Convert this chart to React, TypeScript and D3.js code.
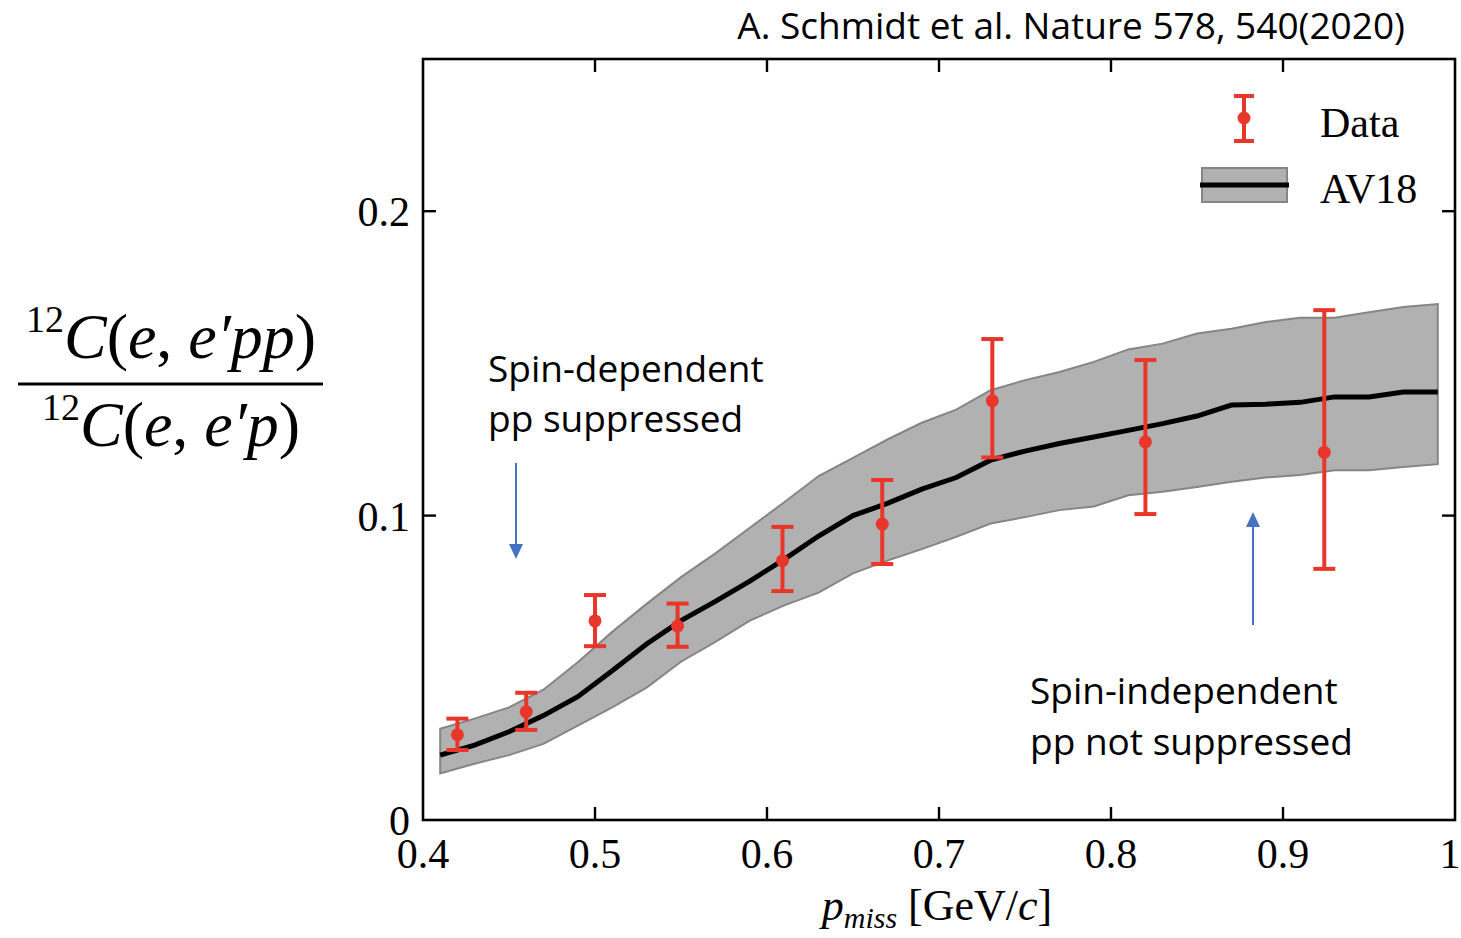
import React from "react";
import * as d3 from "d3";

const dataX = [0.42, 0.46, 0.5, 0.548, 0.609, 0.667, 0.731, 0.82, 0.924];
const dataY = [0.028, 0.0356, 0.0654, 0.0637, 0.0852, 0.0972, 0.1377, 0.1242, 0.1208];
const dataLo = [0.023, 0.0296, 0.0571, 0.0569, 0.0752, 0.0841, 0.1191, 0.1005, 0.0825];
const dataHi = [0.0333, 0.0418, 0.0739, 0.0711, 0.0963, 0.1117, 0.158, 0.1511, 0.1675];

const av18X = [0.41, 0.43, 0.45, 0.47, 0.49, 0.51, 0.53, 0.55, 0.57, 0.59, 0.61, 0.63, 0.65, 0.67, 0.69, 0.71, 0.73, 0.75, 0.77, 0.79, 0.81, 0.83, 0.85, 0.87, 0.89, 0.91, 0.93, 0.95, 0.97, 0.99];
const av18Mid = [0.0213, 0.0246, 0.029, 0.0343, 0.0405, 0.049, 0.0578, 0.0655, 0.0718, 0.0785, 0.0856, 0.0933, 0.1, 0.104, 0.1087, 0.1125, 0.1182, 0.1212, 0.1237, 0.1258, 0.128, 0.1302, 0.1327, 0.1363, 0.1366, 0.1372, 0.139, 0.139, 0.1406, 0.1406];
const av18Lo = [0.0153, 0.0185, 0.0213, 0.025, 0.031, 0.037, 0.0435, 0.052, 0.0585, 0.0655, 0.0705, 0.0747, 0.081, 0.0852, 0.089, 0.093, 0.0974, 0.0995, 0.1018, 0.103, 0.1067, 0.1078, 0.1094, 0.1111, 0.1125, 0.1133, 0.1149, 0.1149, 0.116, 0.1169];
const av18Hi = [0.03, 0.0333, 0.037, 0.0428, 0.0518, 0.0618, 0.071, 0.0798, 0.0876, 0.096, 0.1044, 0.113, 0.119, 0.125, 0.1305, 0.1348, 0.1412, 0.1445, 0.1472, 0.1505, 0.1546, 0.1565, 0.1598, 0.1614, 0.1636, 0.165, 0.165, 0.1668, 0.1685, 0.1695];

const xTicks = [0.4, 0.5, 0.6, 0.7, 0.8, 0.9, 1.0];
const xTickLabels = ["0.4", "0.5", "0.6", "0.7", "0.8", "0.9", "1"];
const yTicks = [0, 0.1, 0.2];
const yTickLabels = ["0", "0.1", "0.2"];

const RED = "#e8372a";
const BLUE = "#4472c4";
const SERIF = "'Liberation Serif', 'DejaVu Serif', serif";
const SANS = "'Open Sans', 'Noto Sans', sans-serif";

export default function App() {
  const x = d3.scaleLinear().domain([0.4, 1.0]).range([423, 1455]);
  const y = d3.scaleLinear().domain([0, 0.25]).range([820, 59]);

  const band = av18X.map((v, i) => ({ x: v, lo: av18Lo[i], hi: av18Hi[i], m: av18Mid[i] }));
  const area = d3
    .area<any>()
    .x((d) => x(d.x))
    .y0((d) => y(d.lo))
    .y1((d) => y(d.hi));
  const line = d3
    .line<any>()
    .x((d) => x(d.x))
    .y((d) => y(d.m));

  const left = x(0.4), right = x(1.0), top = y(0.25), bottom = y(0);
  const tl = 13;
  const cap = 11;

  return (
    <svg width={1461} height={938} style={{ position: "absolute", left: 0, top: 0, background: "#fff" }}>
      {/* band */}
      <path d={area(band) || ""} fill="#b1b1b1" stroke="#858585" strokeWidth={2} />
      <path d={line(band) || ""} fill="none" stroke="#000" strokeWidth={5} />

      {/* data */}
      {dataX.map((v, i) => (
        <g key={i}>
          <line x1={x(v)} x2={x(v)} y1={y(dataLo[i])} y2={y(dataHi[i])} stroke={RED} strokeWidth={4} />
          <line x1={x(v) - cap} x2={x(v) + cap} y1={y(dataLo[i])} y2={y(dataLo[i])} stroke={RED} strokeWidth={4} />
          <line x1={x(v) - cap} x2={x(v) + cap} y1={y(dataHi[i])} y2={y(dataHi[i])} stroke={RED} strokeWidth={4} />
          <circle cx={x(v)} cy={y(dataY[i])} r={6.5} fill={RED} />
        </g>
      ))}

      {/* frame */}
      <rect x={left} y={top} width={right - left} height={bottom - top} fill="none" stroke="#000" strokeWidth={2.6} />
      {xTicks.slice(1, -1).map((t) => (
        <g key={"xt" + t}>
          <line x1={x(t)} x2={x(t)} y1={bottom} y2={bottom - tl} stroke="#000" strokeWidth={2.4} />
          <line x1={x(t)} x2={x(t)} y1={top} y2={top + tl} stroke="#000" strokeWidth={2.4} />
        </g>
      ))}
      {yTicks.slice(1).map((t) => (
        <g key={"yt" + t}>
          <line x1={left} x2={left + tl} y1={y(t)} y2={y(t)} stroke="#000" strokeWidth={2.4} />
          <line x1={right} x2={right - tl} y1={y(t)} y2={y(t)} stroke="#000" strokeWidth={2.4} />
        </g>
      ))}
      {xTicks.map((t, i) => (
        <text key={"xl" + t} x={Math.min(x(t), 1450)} y={868} textAnchor="middle" fontFamily={SERIF} fontSize={42} fill="#000">
          {xTickLabels[i]}
        </text>
      ))}
      {yTicks.map((t, i) => (
        <text key={"yl" + t} x={410} y={y(t) + 15} textAnchor="end" fontFamily={SERIF} fontSize={42} fill="#000">
          {yTickLabels[i]}
        </text>
      ))}

      {/* x-axis label */}
      <text x={937} y={920} textAnchor="middle" fontFamily={SERIF} fontSize={44} fill="#000">
        <tspan fontStyle="italic">p</tspan>
        <tspan fontStyle="italic" fontSize={30} dy={8}>miss</tspan>
        <tspan dy={-8}>{" [GeV/"}</tspan>
        <tspan fontStyle="italic">c</tspan>
        <tspan>]</tspan>
      </text>

      {/* legend */}
      <line x1={1244} x2={1244} y1={96} y2={141} stroke={RED} strokeWidth={4} />
      <line x1={1234} x2={1254} y1={96} y2={96} stroke={RED} strokeWidth={4} />
      <line x1={1234} x2={1254} y1={141} y2={141} stroke={RED} strokeWidth={4} />
      <circle cx={1244} cy={118} r={6.5} fill={RED} />
      <text x={1320} y={137} fontFamily={SERIF} fontSize={42} fill="#000">Data</text>
      <rect x={1202} y={168} width={85} height={34} fill="#b1b1b1" stroke="#858585" strokeWidth={2} />
      <line x1={1200} x2={1289} y1={185} y2={185} stroke="#000" strokeWidth={5} />
      <text x={1320} y={203} fontFamily={SERIF} fontSize={42} fill="#000">AV18</text>

      {/* title */}
      <text x={1405} y={39} textAnchor="end" fontFamily={SANS} fontSize={37} fill="#000">
        A. Schmidt et al. Nature 578, 540(2020)
      </text>

      {/* annotations */}
      <text fontFamily={SANS} fontSize={37} fill="#000">
        <tspan x={488} y={382}>Spin-dependent</tspan>
        <tspan x={488} y={432}>pp suppressed</tspan>
      </text>
      <text fontFamily={SANS} fontSize={37} fill="#000">
        <tspan x={1030} y={704}>Spin-independent</tspan>
        <tspan x={1030} y={755}>pp not suppressed</tspan>
      </text>

      {/* arrows */}
      <line x1={516} x2={516} y1={463} y2={546} stroke={BLUE} strokeWidth={2} />
      <path d="M509,544 L523,544 L516,559 Z" fill={BLUE} />
      <line x1={1253} x2={1253} y1={625} y2={526} stroke={BLUE} strokeWidth={2} />
      <path d="M1246,527 L1260,527 L1253,512 Z" fill={BLUE} />

      {/* y-axis label fraction */}
      <text x={171} y={358} textAnchor="middle" fontFamily={SERIF} fontSize={64} fill="#000">
        <tspan fontSize={38} dy={-26}>12</tspan>
        <tspan fontStyle="italic" dy={26}>C</tspan>
        <tspan>(</tspan>
        <tspan fontStyle="italic">e</tspan>
        <tspan>, </tspan>
        <tspan fontStyle="italic">e′pp</tspan>
        <tspan>)</tspan>
      </text>
      <line x1={18} x2={323} y1={384} y2={384} stroke="#000" strokeWidth={3} />
      <text x={171} y={446} textAnchor="middle" fontFamily={SERIF} fontSize={64} fill="#000">
        <tspan fontSize={38} dy={-26}>12</tspan>
        <tspan fontStyle="italic" dy={26}>C</tspan>
        <tspan>(</tspan>
        <tspan fontStyle="italic">e</tspan>
        <tspan>, </tspan>
        <tspan fontStyle="italic">e′p</tspan>
        <tspan>)</tspan>
      </text>
    </svg>
  );
}
